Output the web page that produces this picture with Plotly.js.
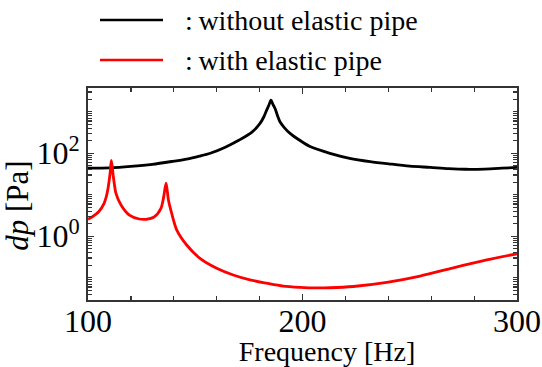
<!DOCTYPE html>
<html>
<head>
<meta charset="utf-8">
<script src="https://cdn.plot.ly/plotly-3.0.1.min.js"></script>
<style>html,body{margin:0;padding:0;background:#fff;}#chart{width:542px;height:367px;}</style>
</head>
<body>
<div id="chart"></div>
<script>
// Series without elastic pipe (black)
const freqWithout = [100, 110, 120, 130, 140, 146, 152, 157, 164, 170.5, 176, 180.2, 182, 183.3, 184.4, 185.3, 186.2, 187.2, 188.4, 189.5, 191.5, 194.2, 198.5, 203.5, 212.8, 222, 231.5, 241, 250, 259.5, 268, 276, 285, 293, 300];
const dpWithout = [43.7, 44.7, 48.4, 54.3, 64.6, 72.4, 85.1, 100, 140, 209, 309, 525, 759, 1096, 1479, 1905, 1514, 1202, 794, 575, 417, 302, 209, 145, 100, 75.9, 63.1, 55.0, 49.0, 45.7, 42.7, 41.2, 41.7, 43.7, 45.7];

// Series with elastic pipe (red)
const freqWith = [100, 102, 105, 107.5, 108.5, 109.2, 110.3, 110.9, 111.8, 112.3, 113, 115.4, 119.3, 123.9, 127, 130.9, 134, 135.3, 136.4, 137.5, 139, 141.4, 146, 152.2, 160, 167.7, 175.5, 183.3, 191, 198.8, 206.6, 212.8, 223.7, 239.3, 254.8, 270.3, 285.9, 300];
const dpWith = [2.57, 2.95, 3.89, 6.24, 8.9, 13.0, 33.1, 67.6, 27.5, 17.8, 11.0, 5.69, 3.24, 2.61, 2.57, 2.95, 4.73, 9.02, 19.1, 7.50, 3.59, 1.41, 0.617, 0.295, 0.170, 0.117, 0.0891, 0.0741, 0.0631, 0.0589, 0.0569, 0.0575, 0.0617, 0.0776, 0.110, 0.174, 0.269, 0.380];

const seriesNames = [':\u2009without elastic pipe', ':\u2009with elastic pipe'];
const yTickVals = [1, 100];
const yTickText = ['10<sup>0</sup>', '10<sup>2</sup>'];
const yOddDecades = [0.1, 10, 1000];

const FONT = '"Liberation Serif", "Times New Roman", serif';

const yMinor = yOddDecades.slice();
for (let n = -2; n <= 3; n++) {
  for (let k = 2; k <= 9; k++) yMinor.push(k * Math.pow(10, n));
}

const traces = [
  {x: freqWithout, y: dpWithout, type: 'scatter', mode: 'lines', name: seriesNames[0],
   line: {color: '#000000', width: 2.8, shape: 'spline', smoothing: 0.8}, showlegend: false},
  {x: freqWith, y: dpWith, type: 'scatter', mode: 'lines', name: seriesNames[1],
   line: {color: '#ff0000', width: 2.8, shape: 'spline', smoothing: 0.8}, showlegend: false}
];

const L = 88, R = 517, T = 88, B = 300;
const px = v => (v - L) / (R - L);
const py = v => (B - v) / (B - T);

const layout = {
  width: 542, height: 367,
  margin: {l: L, r: 542 - R, t: T, b: 367 - B},
  paper_bgcolor: '#fff', plot_bgcolor: '#fff',
  font: {family: FONT, color: '#000', size: 28},
  showlegend: false,
  xaxis: {
    range: [100, 300], tickmode: 'linear', tick0: 100, dtick: 100,
    ticks: 'inside', ticklen: 6, tickwidth: 1.5, tickcolor: '#333',
    minor: {dtick: 20, ticks: 'inside', ticklen: 4, tickwidth: 1.2, tickcolor: '#333'},
    showline: true, linecolor: '#333', linewidth: 2, mirror: 'allticks',
    showgrid: false, zeroline: false,
    ticklabelstandoff: -8,
    tickfont: {family: FONT, size: 32, color: '#000'},
    title: {text: '&nbsp;&nbsp;&nbsp;&nbsp;&nbsp;&nbsp;&nbsp;Frequency [Hz]', font: {family: FONT, size: 28, color: '#000'}, standoff: 6}
  },
  yaxis: {
    type: 'log', range: [-1.535, 3.573],
    tickmode: 'array', tickvals: yTickVals, ticktext: yTickText,
    ticks: 'inside', ticklen: 6, tickwidth: 1.5, tickcolor: '#333',
    minor: {tickmode: 'array', tickvals: yMinor, ticks: 'inside', ticklen: 4, tickwidth: 1.1, tickcolor: '#333'},
    showline: true, linecolor: '#333', linewidth: 2, mirror: 'allticks',
    showgrid: false, zeroline: false,
    tickfont: {family: FONT, size: 32, color: '#000'},
    title: {text: '<i>dp</i> [Pa]&nbsp;&nbsp;&nbsp;', font: {family: FONT, size: 31, color: '#000'}, standoff: 0}
  },
  shapes: [
    {type: 'line', xref: 'paper', yref: 'paper', x0: px(100), x1: px(163), y0: py(20), y1: py(20),
     line: {color: '#000000', width: 2.5}},
    {type: 'line', xref: 'paper', yref: 'paper', x0: px(100), x1: px(163), y0: py(60), y1: py(60),
     line: {color: '#ff0000', width: 2.5}}
  ],
  annotations: [
    {xref: 'paper', yref: 'paper', x: px(183), y: py(20), xanchor: 'left', yanchor: 'middle',
     text: seriesNames[0], showarrow: false, font: {family: FONT, size: 28, color: '#000'}},
    {xref: 'paper', yref: 'paper', x: px(183), y: py(60), xanchor: 'left', yanchor: 'middle',
     text: seriesNames[1], showarrow: false, font: {family: FONT, size: 28, color: '#000'}}
  ]
};

Plotly.newPlot('chart', traces, layout, {staticPlot: true, displayModeBar: false});
</script>
</body>
</html>
